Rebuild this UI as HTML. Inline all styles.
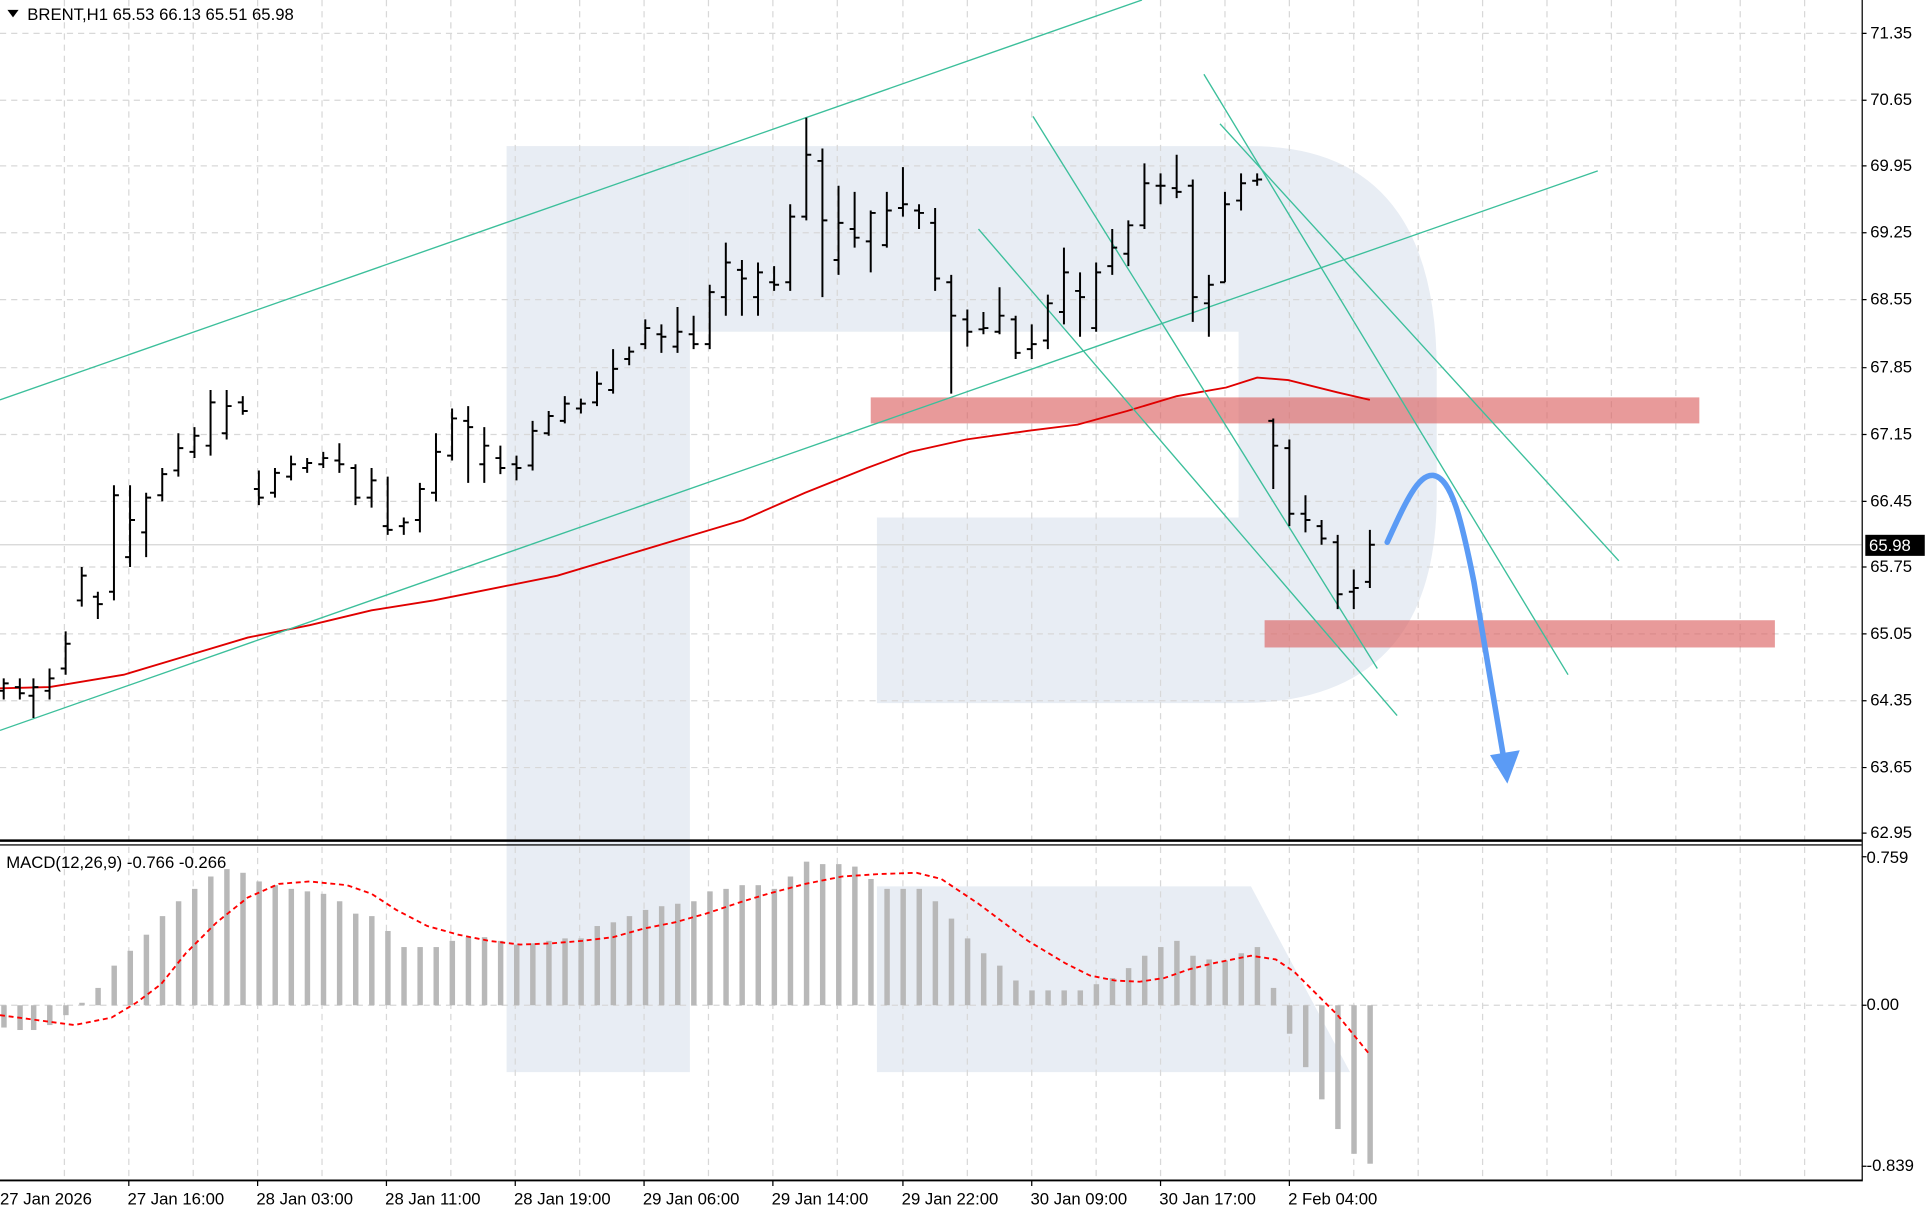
<!DOCTYPE html>
<html><head><meta charset="utf-8"><style>
html,body{margin:0;padding:0;background:#fff;}
svg{display:block;}
text{font-family:"Liberation Sans","DejaVu Sans",sans-serif;font-size:13.5px;fill:#000;}
</style></head><body>
<svg width="1926" height="1212" viewBox="0 0 1555 979" preserveAspectRatio="none" xmlns="http://www.w3.org/2000/svg">
<rect width="1555" height="979" fill="#fff"/>
<g fill="#e8edf4">
<rect x="409" y="118" width="148" height="748"/>
<path d="M557,118 H1010 Q1160,118 1160,300 V400 Q1160,568 1000,568 H708 V418 H1000 V268 H557 Z"/>
<path d="M708,716 H1010 L1090,866 H708 Z"/>
</g>
<g stroke="#d8d8d8" stroke-width="1" stroke-dasharray="5,4">
<path d="M52,0V953M104,0V953M156,0V953M208,0V953M260,0V953M312,0V953M364,0V953M416,0V953M468,0V953M520,0V953M572,0V953M624,0V953M676,0V953M729,0V953M781,0V953M833,0V953M885,0V953M937,0V953M989,0V953M1041,0V953M1093,0V953M1145,0V953M1197,0V953M1249,0V953M1301,0V953M1353,0V953M1405,0V953M1457,0V953"/>
<path d="M0,27H1503M0,81H1503M0,134H1503M0,188H1503M0,242H1503M0,297H1503M0,351H1503M0,405H1503M0,458H1503M0,512H1503M0,566H1503M0,620H1503M0,812H1503"/>
</g>
<line x1="0" y1="440" x2="1503" y2="440" stroke="#d4d4d4"/>
<rect x="703" y="321" width="669" height="21" fill="#dc6464" opacity="0.65"/>
<rect x="1021" y="501" width="412" height="22" fill="#dc6464" opacity="0.65"/>
<polyline fill="none" stroke="#e00000" stroke-width="1.5" points="0,556 40,555 100,545 150,530 200,515 250,505 300,493 350,485 400,475 450,465 500,450 550,435 600,420 650,398 700,378 735,365 780,355 830,348 870,343 910,332 950,320 990,313 1015,305 1040,307 1080,317 1106,323"/>
<g stroke="#3cbf9b" stroke-width="1.1">
<line x1="0" y1="323" x2="922" y2="0"/>
<line x1="0" y1="590" x2="1290" y2="138"/>
<line x1="790" y1="185" x2="1128" y2="578"/>
<line x1="834" y1="94" x2="1112" y2="540"/>
<line x1="972" y1="60" x2="1266" y2="545"/>
<line x1="985" y1="100" x2="1307" y2="453"/>
</g>
<path fill="none" stroke="#000" stroke-width="1.6" d="
M3,548V565M16,548V565M27,548V580M40,540V565M53,510V545M66,458V490M79,478V500M92,392V485M105,392V458M118,398V450M131,378V405M144,350V385M157,345V370M170,315V368M183,315V355M196,320V335
M209,380V408M222,378V402M235,368V388M248,370V382M261,365V378M274,358V382M287,375V408M300,378V410M313,385V432M326,418V432M339,390V430M352,350V405M365,330V372M378,328V390M391,345V390M404,360V383M417,368V388M430,340V380M443,332V352M456,320V342M469,322V334M482,300V328M495,282V318M508,280V295M521,258V282M534,262V285M547,248V285M560,255V282M573,230V282M586,196V255M599,210V255M612,212V255M625,215V235M638,165V235M651,95V178M664,120V240M677,150V222M690,155V200M703,170V220M716,155V200M729,135V175M742,165V185M755,168V235M768,222V318M781,250V280M794,252V270M807,232V270M820,255V290M833,262V290M846,238V282M859,200V262M872,220V272M885,212V268M898,185V222M911,178V215M924,132V185M937,140V165M950,125V160M963,145V260M976,222V272M989,155V228M1002,140V170M1015,140V150
M1028,338V395M1041,355V425M1054,400V430M1067,420V440M1080,432V492M1093,460V492M1106,428V475"/>
<path fill="none" stroke="#000" stroke-width="1.6" d="
M-1,558h4M3,552h4M12,555h4M16,560h4M23,562h4M27,555h4M36,558h4M40,548h4M49,540h4M53,520h4M62,485h4M66,465h4M75,482h4M79,488h4M88,478h4M92,400h4M101,450h4M105,420h4M114,430h4M118,402h4M127,400h4M131,383h4M140,380h4M144,362h4M153,365h4M157,352h4M166,360h4M170,325h4M179,350h4M183,328h4M192,325h4M196,332h4
M205,395h4M209,402h4M218,398h4M222,382h4M231,385h4M235,375h4M244,378h4M248,374h4M257,375h4M261,370h4M270,372h4M274,375h4M283,378h4M287,402h4M296,402h4M300,388h4M309,425h4M313,428h4M322,425h4M326,422h4M335,420h4M339,395h4M348,398h4M352,365h4M361,368h4M365,338h4M374,340h4M378,345h4M387,375h4M391,360h4M400,370h4M404,378h4M413,375h4M417,378h4M426,376h4M430,348h4M439,350h4M443,336h4M452,340h4M456,326h4M465,330h4M469,326h4M478,325h4M482,310h4M491,315h4M495,298h4M504,290h4M508,284h4M517,278h4M521,265h4M530,270h4M534,272h4M543,280h4M547,268h4M556,270h4M560,278h4M569,278h4M573,236h4M582,240h4M586,212h4M595,218h4M599,225h4M608,240h4M612,220h4M621,228h4M625,230h4M634,228h4M638,175h4M647,175h4M651,125h4M660,130h4M664,178h4M673,210h4M677,180h4M686,185h4M690,192h4M699,195h4M703,172h4M712,198h4M716,170h4M725,168h4M729,165h4M738,170h4M742,172h4M751,180h4M755,225h4M764,228h4M768,255h4M777,258h4M781,268h4M790,266h4M794,265h4M803,268h4M807,255h4M816,258h4M820,285h4M829,282h4M833,278h4M842,275h4M846,245h4M855,252h4M859,220h4M868,235h4M872,240h4M881,265h4M885,220h4M894,215h4M898,200h4M907,205h4M911,182h4M920,182h4M924,148h4M933,150h4M937,150h4M946,152h4M950,155h4M959,150h4M963,240h4M972,245h4M976,230h4M985,228h4M989,165h4M998,162h4M1002,148h4M1011,146h4M1015,145h4
M1024,340h4M1028,360h4M1037,362h4M1041,415h4M1050,415h4M1054,420h4M1063,425h4M1067,435h4M1076,438h4M1080,480h4M1089,478h4M1093,475h4M1102,470h4M1106,440h4"/>
<path d="M1120,438 C1135,405 1145,383 1157,384 C1172,386 1180,420 1190,470 L1214,612" fill="none" stroke="#5b9bf5" stroke-width="4.5" stroke-linecap="round"/>
<path d="M1203,610 L1227,606 L1217,633 Z" fill="#5b9bf5"/>
<rect x="0" y="678" width="1503" height="2" fill="#000"/>
<rect x="0" y="682" width="1503" height="1" fill="#000"/>
<line x1="1503.5" y1="0" x2="1503.5" y2="953" stroke="#000"/>
<line x1="0" y1="953.5" x2="1504" y2="953.5" stroke="#000" stroke-width="1.5"/>
<g fill="#b8b8b8">
<rect x="1" y="812" width="4.4" height="18"/><rect x="14" y="812" width="4.4" height="20"/><rect x="25" y="812" width="4.4" height="20"/><rect x="38" y="812" width="4.4" height="16"/><rect x="51" y="812" width="4.4" height="8"/><rect x="64" y="810" width="4.4" height="2"/>
<rect x="77" y="798" width="4.4" height="14"/><rect x="90" y="780" width="4.4" height="32"/><rect x="103" y="768" width="4.4" height="44"/><rect x="116" y="755" width="4.4" height="57"/><rect x="129" y="740" width="4.4" height="72"/><rect x="142" y="728" width="4.4" height="84"/><rect x="155" y="718" width="4.4" height="94"/><rect x="168" y="708" width="4.4" height="104"/><rect x="181" y="702" width="4.4" height="110"/><rect x="194" y="705" width="4.4" height="107"/>
<rect x="207" y="712" width="4.4" height="100"/><rect x="220" y="715" width="4.4" height="97"/><rect x="233" y="718" width="4.4" height="94"/><rect x="246" y="720" width="4.4" height="92"/><rect x="259" y="722" width="4.4" height="90"/><rect x="272" y="728" width="4.4" height="84"/><rect x="285" y="738" width="4.4" height="74"/><rect x="298" y="740" width="4.4" height="72"/><rect x="311" y="752" width="4.4" height="60"/><rect x="324" y="765" width="4.4" height="47"/><rect x="337" y="765" width="4.4" height="47"/><rect x="350" y="765" width="4.4" height="47"/><rect x="363" y="760" width="4.4" height="52"/><rect x="376" y="757" width="4.4" height="55"/><rect x="389" y="757" width="4.4" height="55"/><rect x="402" y="760" width="4.4" height="52"/><rect x="415" y="763" width="4.4" height="49"/><rect x="428" y="762" width="4.4" height="50"/><rect x="441" y="760" width="4.4" height="52"/><rect x="454" y="758" width="4.4" height="54"/><rect x="467" y="758" width="4.4" height="54"/><rect x="480" y="748" width="4.4" height="64"/><rect x="493" y="745" width="4.4" height="67"/><rect x="506" y="740" width="4.4" height="72"/><rect x="519" y="735" width="4.4" height="77"/><rect x="532" y="732" width="4.4" height="80"/><rect x="545" y="730" width="4.4" height="82"/><rect x="558" y="728" width="4.4" height="84"/><rect x="571" y="720" width="4.4" height="92"/><rect x="584" y="718" width="4.4" height="94"/><rect x="597" y="715" width="4.4" height="97"/><rect x="610" y="715" width="4.4" height="97"/><rect x="623" y="718" width="4.4" height="94"/><rect x="636" y="708" width="4.4" height="104"/><rect x="649" y="696" width="4.4" height="116"/><rect x="662" y="698" width="4.4" height="114"/><rect x="675" y="698" width="4.4" height="114"/><rect x="688" y="700" width="4.4" height="112"/><rect x="701" y="710" width="4.4" height="102"/><rect x="714" y="718" width="4.4" height="94"/><rect x="727" y="718" width="4.4" height="94"/><rect x="740" y="718" width="4.4" height="94"/><rect x="753" y="728" width="4.4" height="84"/><rect x="766" y="742" width="4.4" height="70"/><rect x="779" y="758" width="4.4" height="54"/><rect x="792" y="770" width="4.4" height="42"/><rect x="805" y="780" width="4.4" height="32"/><rect x="818" y="792" width="4.4" height="20"/><rect x="831" y="800" width="4.4" height="12"/><rect x="844" y="800" width="4.4" height="12"/><rect x="857" y="800" width="4.4" height="12"/><rect x="870" y="800" width="4.4" height="12"/><rect x="883" y="795" width="4.4" height="17"/><rect x="896" y="790" width="4.4" height="22"/><rect x="909" y="782" width="4.4" height="30"/><rect x="922" y="772" width="4.4" height="40"/><rect x="935" y="765" width="4.4" height="47"/><rect x="948" y="760" width="4.4" height="52"/><rect x="961" y="772" width="4.4" height="40"/><rect x="974" y="775" width="4.4" height="37"/><rect x="987" y="776" width="4.4" height="36"/><rect x="1000" y="770" width="4.4" height="42"/><rect x="1013" y="765" width="4.4" height="47"/><rect x="1026" y="798" width="4.4" height="14"/>
<rect x="1039" y="812" width="4.4" height="23"/><rect x="1052" y="812" width="4.4" height="50"/><rect x="1065" y="812" width="4.4" height="76"/><rect x="1078" y="812" width="4.4" height="100"/><rect x="1091" y="812" width="4.4" height="120"/><rect x="1104" y="812" width="4.4" height="128"/>
</g>
<polyline fill="none" stroke="#ff0000" stroke-width="1.5" stroke-dasharray="4,3" points="0,820 30,824 60,828 90,822 110,810 130,795 150,770 175,745 200,725 225,714 250,712 280,715 300,722 320,735 345,748 370,755 395,760 420,763 445,762 470,760 495,757 520,750 545,745 570,738 600,728 620,722 650,714 680,708 710,706 740,705 760,710 775,720 790,730 810,745 830,760 860,778 880,788 900,792 920,793 940,790 960,783 980,778 1010,772 1030,775 1045,785 1060,800 1080,820 1106,852"/>
<path d="M6,8 h9 l-4.5,6 z" fill="#000"/>
<text x="22" y="16">BRENT,H1  65.53 66.13 65.51 65.98</text>
<text x="5" y="701">MACD(12,26,9) -0.766 -0.266</text>
<g>
<text x="1510" y="31">71.35</text><text x="1510" y="85">70.65</text><text x="1510" y="138">69.95</text><text x="1510" y="192">69.25</text><text x="1510" y="246">68.55</text><text x="1510" y="301">67.85</text><text x="1510" y="355">67.15</text><text x="1510" y="409">66.45</text><text x="1510" y="462">65.75</text><text x="1510" y="516">65.05</text><text x="1510" y="570">64.35</text><text x="1510" y="624">63.65</text><text x="1510" y="677">62.95</text>
<text x="1507" y="697">0.759</text><text x="1507" y="816">0.00</text><text x="1507" y="946">-0.839</text>
</g>
<rect x="1506" y="432" width="48" height="17" fill="#000"/>
<text x="1509" y="445" style="fill:#fff">65.98</text>
<g stroke="#000"><path d="M1503,27h4M1503,81h4M1503,134h4M1503,188h4M1503,242h4M1503,297h4M1503,351h4M1503,405h4M1503,458h4M1503,512h4M1503,566h4M1503,620h4M1503,673h4M1503,812h4M1503,942h4M1503,692h4"/>
<path d="M104,953v5M208,953v5M312,953v5M416,953v5M520,953v5M624,953v5M729,953v5M833,953v5M937,953v5M1041,953v5"/></g>
<text x="0" y="973">27 Jan 2026</text><text x="103" y="973">27 Jan 16:00</text><text x="207" y="973">28 Jan 03:00</text><text x="311" y="973">28 Jan 11:00</text><text x="415" y="973">28 Jan 19:00</text><text x="519" y="973">29 Jan 06:00</text><text x="623" y="973">29 Jan 14:00</text><text x="728" y="973">29 Jan 22:00</text><text x="832" y="973">30 Jan 09:00</text><text x="936" y="973">30 Jan 17:00</text><text x="1040" y="973">2 Feb 04:00</text>
</svg>
</body></html>
